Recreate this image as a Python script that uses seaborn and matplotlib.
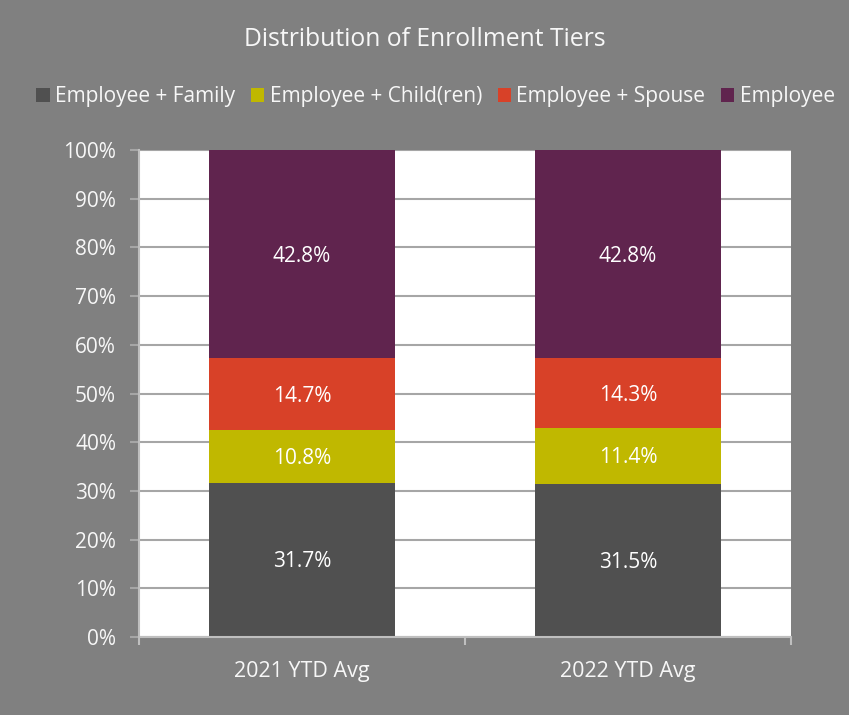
import numpy as np
import matplotlib
matplotlib.use('Agg')
import matplotlib.pyplot as plt
import seaborn as sns
from matplotlib.patches import Patch
from matplotlib.ticker import FixedLocator

# data
periods = ['2021 YTD Avg', '2022 YTD Avg']
tiers = ['Employee + Family', 'Employee + Child(ren)', 'Employee + Spouse', 'Employee']
family = [31.7, 31.5]
children = [10.8, 11.4]
spouse = [14.7, 14.3]
employee = [42.8, 42.8]
colors = ['#505050', '#c0b800', '#d84128', '#60244e']

sns.set_theme(style='white')
plt.rcParams['font.family'] = ['Open Sans', 'DejaVu Sans']

bg = '#808080'
txt = '#f7f7f7'
grid = '#a6a6a6'

fig = plt.figure(figsize=(8.49, 7.15), dpi=100, facecolor=bg)
ax = fig.add_axes([0.1637, 0.1091, 0.7680, 0.6811])
ax.set_facecolor('white')

layers = [family, children, spouse, employee]
cum = np.cumsum(np.array(layers), axis=0)

# draw the cumulative totals from the top layer down so they stack
for i in range(len(layers) - 1, -1, -1):
    sns.barplot(x=periods, y=cum[i], color=colors[i], width=0.573,
                saturation=1, ax=ax, zorder=2, edgecolor='none')

# labels in the middle of each segment
for i, vals in enumerate(layers):
    for j, v in enumerate(vals):
        mid = cum[i][j] - v / 2
        ax.text(j, mid - 0.4, f'{v:.1f}%', ha='center', va='center',
                color='white', fontsize=15, zorder=3)

ax.set_ylim(0, 100)
ax.set_xlim(-0.5, 1.5)
ax.set_yticks(range(0, 101, 10))
ax.set_yticklabels([f'{t}%' for t in range(0, 101, 10)])
ax.yaxis.grid(True, color=grid, linewidth=1.5, zorder=0)
ax.set_axisbelow(True)
ax.set_xlabel('')
ax.set_ylabel('')

for s in ['top', 'right']:
    ax.spines[s].set_visible(False)
for s in ['left', 'bottom']:
    ax.spines[s].set_color('#bfbfbf')
    ax.spines[s].set_linewidth(1.5)

ax.tick_params(axis='y', which='major', colors=grid, labelcolor=txt,
               labelsize=15, length=6.5, width=1.5, pad=10, left=True)
ax.tick_params(axis='x', which='major', length=0, labelcolor=txt,
               labelsize=15.5, pad=17)
ax.xaxis.set_minor_locator(FixedLocator([-0.5, 0.5, 1.5]))
ax.tick_params(axis='x', which='minor', length=6, width=1.5,
               color='#bfbfbf', bottom=True)

fig.text(0.5, 0.945, 'Distribution of Enrollment Tiers', ha='center',
         va='center', color=txt, fontsize=17.8)

handles = [Patch(facecolor=c, edgecolor='none', label=t) for c, t in zip(colors, tiers)]
leg = fig.legend(handles=handles, loc='center', bbox_to_anchor=(0.513, 0.865),
                 ncol=4, frameon=False, fontsize=15, handlelength=0.65,
                 handleheight=0.65, handletextpad=0.25, columnspacing=0.75)
for t in leg.get_texts():
    t.set_color(txt)

fig.savefig('out.png', dpi=100, facecolor=bg)
